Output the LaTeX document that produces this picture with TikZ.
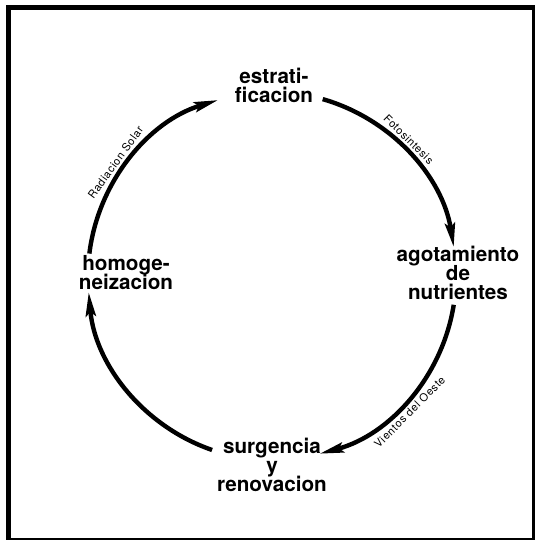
\documentclass[tikz,border=0pt]{standalone}
\usepackage{fontspec}
\setmainfont{TeX Gyre Heros}
\newfontfamily\causefont[LetterSpace=6]{TeX Gyre Heros}
\newcommand\stagefont{\bfseries\fontsize{15.5}{14.2}\selectfont\lineskiplimit=-8pt\relax}
\usetikzlibrary{arrows.meta}

\begin{document}
\begin{tikzpicture}[x=0.75pt,y=0.75pt,yscale=-1,xscale=1,
  stage/.style={font=\stagefont, align=center, inner sep=0pt},
  cause/.style={font=\causefont\fontsize{8.2}{9}\selectfont, inner sep=0pt},
  flow/.style={line width=3.3pt, -{Stealth[length=18pt,width=7.5pt,inset=3pt]}}]
\useasboundingbox (0,0) rectangle (536,540);

%Shape: Frame
\draw [line width=3.75pt] (8.5,540) -- (8.5,7.5) -- (535,7.5) ;
\draw [line width=1.8pt] (533.5,7.5) -- (533.5,539) -- (8.5,539) ;

%Shape: Circle centre and arc starts
\coordinate (ctr) at (272,276);
\coordinate (homog-out) at ([shift={(-173:184)}]ctr);
\coordinate (estrat-out) at ([shift={(-74:184)}]ctr);
\coordinate (agot-out) at ([shift={(9:184)}]ctr);
\coordinate (surg-out) at ([shift={(109:184)}]ctr);

% Text Node
\node [stage] (estrat) at (274,85) {estrati-\\ficacion};
% Text Node
\node [stage] (agot) at (458,273) {agotamiento\\de\\nutrientes};
% Text Node
\node [stage] (surg) at (272,465) {surgencia\\y\\renovacion};
% Text Node
\node [stage] (homog) at (126,273) {homoge-\\neizacion};

%Curve Lines
\draw [flow] (homog-out) arc [start angle=-173, end angle=-107, radius=184] ;
\draw [flow] (estrat-out) arc [start angle=-74, end angle=-9, radius=184] ;
\draw [flow] (agot-out) arc [start angle=9, end angle=75, radius=184] ;
\draw [flow] (surg-out) arc [start angle=109, end angle=175, radius=184] ;

% Text Node
\node [cause, anchor=south, rotate=54] (radiacion) at ([shift={(-144:189)}]ctr) {Radiacion Solar};
% Text Node
\node [cause, anchor=south, rotate=-45] (fotosintesis) at ([shift={(-45:189)}]ctr) {Fotosintesis};
% Text Node
\node [cause, anchor=north, rotate=45.3] (vientos) at ([shift={(44.7:189)}]ctr) {Vientos del Oeste};

\end{tikzpicture}
\end{document}
